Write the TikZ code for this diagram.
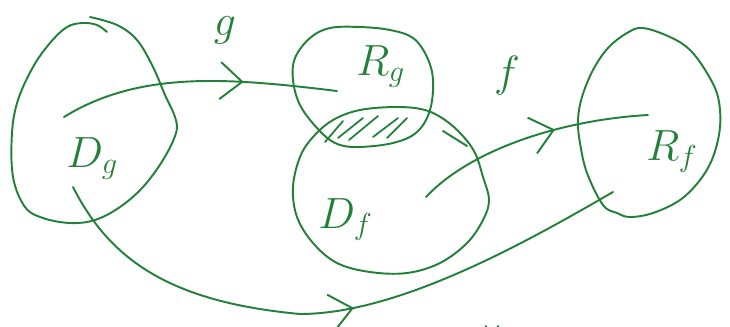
\documentclass[tikz,border=0pt]{standalone}
\usepackage{amsmath,amssymb}
\usepackage{xcolor}
\usepackage{tikz}
\usetikzlibrary{arrows.meta,decorations.markings}
\definecolor{inkgreen}{RGB}{35,128,57}
\tikzset{
  pen/.style={draw=inkgreen, line width=1.1pt, line cap=round, line join=round},
  setlbl/.style={text=inkgreen, inner sep=0pt, font=\fontsize{24}{28}\selectfont},
  maplbl/.style={text=inkgreen, inner sep=0pt, font=\fontsize{26}{30}\selectfont},
  midarrow/.style={pen, postaction={decorate, decoration={markings,
      mark=at position #1 with {\arrow[inkgreen]{Straight Barb[length=4.4mm,width=7.4mm,line width=1.1pt]}}}}},
  hatch/.style={pen, line width=1pt}
}

\begin{document}
\begin{tikzpicture}[x=0.02cm, y=-0.02cm]
  \useasboundingbox (0,0) rectangle (730,326);

  % domain of g
  \draw[pen] plot[smooth, tension=0.6] coordinates {(107,32) (97,25) (83,23) (67,27) (50,43) (33,67) (18,100) (12,133) (13,177) (25,207) (43,218) (70,223) (95,220) (120,207) (143,187) (163,160) (176,133) (175,117) (165,95) (153,67) (137,40) (117,25) (90,17)};
  \node[setlbl, anchor=base west] (Dg) at (66,167) {$D_g$};

  % range of g
  \draw[pen] plot[smooth cycle, tension=0.6] coordinates {(330,28) (310,38) (295,58) (293,80) (300,105) (317,128) (335,143) (357,147) (393,143) (417,132) (430,110) (433,80) (427,57) (413,38) (390,30) (360,27)};
  \node[setlbl, anchor=base west] (Rg) at (356,75) {$R_g$};

  % domain of f
  \draw[pen] plot[smooth cycle, tension=0.6] coordinates {(397,107) (360,110) (333,120) (313,137) (300,157) (293,187) (297,217) (313,243) (337,263) (370,272) (407,273) (440,263) (467,243) (483,220) (489,200) (483,177) (475,153) (462,135) (445,120) (425,110)};
  \draw[pen] (443,131) -- (467,146);
  \node[setlbl, anchor=base west] (Df) at (318,228) {$D_f$};

  % overlap R_g with D_f
  \foreach \xa/\ya/\xb/\yb in {325/142/343/121, 338/138/363/118, 349/140/378/116, 373/137/398/118, 387/138/407/118}
    \draw[hatch] (\xa,\ya) -- (\xb,\yb);

  % range of f
  \draw[pen] plot[smooth cycle, tension=0.6] coordinates {(643,28) (627,33) (608,48) (593,70) (582,97) (578,120) (580,143) (587,173) (603,205) (617,213) (630,217) (653,213) (680,200) (700,180) (713,157) (720,127) (718,97) (707,73) (690,50) (670,37)};
  \node[setlbl, anchor=base west] (Rf) at (646,160) {$R_f$};

  % maps
  \coordinate (gs) at (64,117);
  \coordinate (ge) at (337,91);
  \coordinate (fs) at (426,197);
  \coordinate (fe) at (648,115);
  \coordinate (hs) at (73,187);
  \coordinate (hm) at (300,314);
  \coordinate (he) at (613,192);
  \draw[midarrow=0.665] (gs) .. controls (140,70) and (230,78) .. (ge);
  \draw[midarrow=0.61] (fs) .. controls (470,150) and (560,120) .. (fe);
  \draw[midarrow=0.535] (hs) .. controls (110,260) and (170,302) .. (hm)
                            .. controls (400,314) and (530,240) .. (he);
  \node[maplbl] (glbl) at (225,30) {$g$};
  \node[maplbl] (flbl) at (507,76) {$f$};

  % stray mark at the bottom
  \draw[pen] (486,326) arc (180:0:6);
\end{tikzpicture}
\end{document}
